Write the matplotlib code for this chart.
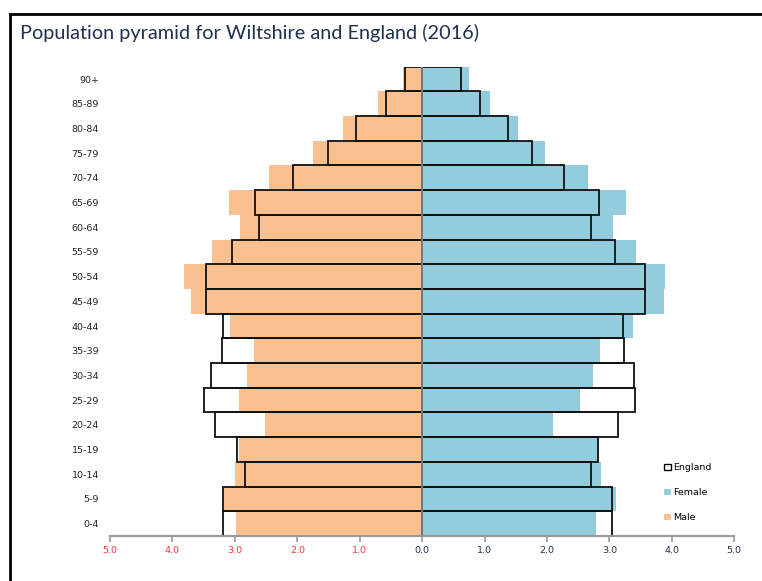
import matplotlib.pyplot as plt
from matplotlib.patches import Patch
from matplotlib.lines import Line2D

ages = ["0-4", "5-9", "10-14", "15-19", "20-24", "25-29", "30-34", "35-39",
        "40-44", "45-49", "50-54", "55-59", "60-64", "65-69", "70-74",
        "75-79", "80-84", "85-89", "90+"]

# percentages, Wiltshire
male = [2.99, 3.17, 3.00, 2.93, 2.52, 2.93, 2.81, 2.70, 3.08, 3.70,
        3.82, 3.37, 2.92, 3.09, 2.45, 1.75, 1.27, 0.70, 0.30]
female = [2.78, 3.11, 2.87, 2.81, 2.10, 2.53, 2.74, 2.85, 3.37, 3.87,
          3.89, 3.42, 3.05, 3.26, 2.66, 1.97, 1.54, 1.08, 0.75]

# percentages, England
eng_male = [3.19, 3.19, 2.84, 2.96, 3.32, 3.49, 3.39, 3.21, 3.19, 3.47,
            3.47, 3.04, 2.61, 2.67, 2.07, 1.51, 1.06, 0.58, 0.28]
eng_female = [3.04, 3.04, 2.71, 2.82, 3.14, 3.41, 3.39, 3.24, 3.22, 3.57,
              3.57, 3.09, 2.71, 2.84, 2.27, 1.76, 1.38, 0.93, 0.63]

ticks = [-5, -4, -3, -2, -1, 0, 1, 2, 3, 4, 5]

orange = "#fac090"
blue = "#93cddd"
navy = "#1f3050"

fig = plt.figure(figsize=(7.62, 5.81), dpi=100)
ax = fig.add_axes([0.1444, 0.0775, 0.8192, 0.8077])

y = list(range(len(ages)))
ax.barh(y, [-v for v in male], height=1.0, color=orange, linewidth=0)
ax.barh(y, female, height=1.0, color=blue, linewidth=0)
ax.barh(y, [-v for v in eng_male], height=1.0, fill=False,
        edgecolor="#111111", linewidth=1.3)
ax.barh(y, eng_female, height=1.0, fill=False,
        edgecolor="#111111", linewidth=1.3)
ax.axvline(0, color="#8c8c8c", linewidth=1.2, zorder=3)

ax.set_xlim(-5, 5)
ax.set_ylim(-0.5, len(ages) - 0.5)
ax.set_yticks(y)
ax.set_yticklabels(ages, fontsize=6.8, color="#222222", family="DejaVu Sans")
ax.tick_params(axis="y", length=0, pad=8)
ax.set_xticks(ticks)
ax.set_xticklabels([f"{abs(t):.1f}" for t in ticks], fontsize=6.8,
                   family="DejaVu Sans")
for lbl, t in zip(ax.get_xticklabels(), ticks):
    lbl.set_color("#ff3344" if t < 0 else navy)
ax.tick_params(axis="x", length=4, width=1.2, color="#999999", pad=3)

for s in ["top", "right", "left"]:
    ax.spines[s].set_visible(False)
ax.spines["bottom"].set_color("#999999")
ax.spines["bottom"].set_linewidth(1.5)

handles = [Patch(facecolor="white", edgecolor="black", linewidth=1.0),
           Patch(facecolor=blue, edgecolor="none"),
           Patch(facecolor=orange, edgecolor="none")]
ax.legend(handles, ["England", "Female", "Male"], loc="upper left",
          bbox_to_anchor=(0.882, 0.163), frameon=False,
          handlelength=0.65, handleheight=0.65, handletextpad=0.25,
          labelspacing=1.7, borderaxespad=0,
          prop={"family": "DejaVu Sans", "size": 6.8})

fig.text(0.026, 0.943, "Population pyramid for Wiltshire and England (2016)",
         fontsize=14.3, color=navy, family="Lato", va="center")

# screenshot frame
fig.add_artist(Line2D([0.013, 1.0], [0.976, 0.976], color="black",
                      linewidth=2, transform=fig.transFigure))
fig.add_artist(Line2D([0.013, 0.013], [0.0, 0.976], color="black",
                      linewidth=2, transform=fig.transFigure))

fig.savefig("out.png", dpi=100)
